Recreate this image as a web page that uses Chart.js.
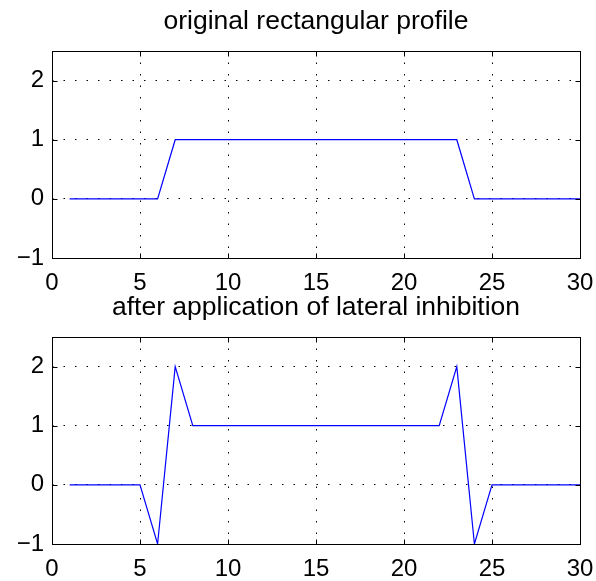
<!DOCTYPE html>
<html>
<head>
<meta charset="utf-8">
<script src="https://cdn.jsdelivr.net/npm/chart.js@4.4.0/dist/chart.umd.min.js"></script>
<style>
  html, body { margin: 0; padding: 0; background: #fff; }
  #wrap { position: relative; width: 596px; height: 581px; overflow: hidden; }
  canvas { position: absolute; left: 0; }
</style>
</head>
<body>
<div id="wrap">
  <canvas id="top" width="596" height="298" style="top:0"></canvas>
  <canvas id="bottom" width="596" height="291" style="top:290px"></canvas>
</div>
<script>
// sample index along the profile
const xs = [1, 2, 3, 4, 5, 6, 7, 8, 9, 10, 11, 12, 13, 14, 15,
            16, 17, 18, 19, 20, 21, 22, 23, 24, 25, 26, 27, 28, 29, 30];
const original = [0, 0, 0, 0, 0, 0, 1, 1, 1, 1, 1, 1, 1, 1, 1,
                  1, 1, 1, 1, 1, 1, 1, 1, 0, 0, 0, 0, 0, 0, 0];
const inhibited = [0, 0, 0, 0, 0, -1, 2, 1, 1, 1, 1, 1, 1, 1, 1,
                   1, 1, 1, 1, 1, 1, 1, 2, -1, 0, 0, 0, 0, 0, 0];
const xTicks = [0, 5, 10, 15, 20, 25, 30];
const yTicks = [-1, 0, 1, 2];
const titles = ['original rectangular profile', 'after application of lateral inhibition'];

const el = (id) => document.getElementById(id);
const FONT = '"Liberation Sans", Arial, Helvetica, sans-serif';

// matlab style: full box + short ticks pointing inward, title centred on the axes
const boxPlugin = {
  id: 'box',
  afterDraw(chart, args, opts) {
    const { ctx, chartArea: a, scales } = chart;
    const L = Math.round(a.left) + 0.5, R = Math.round(a.right) + 0.5;
    const T = Math.round(a.top) + 0.5, B = Math.round(a.bottom) + 0.5;
    ctx.save();
    ctx.strokeStyle = '#000';
    ctx.lineWidth = 1;
    ctx.beginPath();
    for (const v of xTicks) {
      const px = Math.round(scales.x.getPixelForValue(v)) + 0.5;
      ctx.moveTo(px, B); ctx.lineTo(px, B - 5);
      ctx.moveTo(px, T); ctx.lineTo(px, T + 5);
    }
    for (const v of yTicks) {
      const py = Math.round(scales.y.getPixelForValue(v)) + 0.5;
      ctx.moveTo(L, py); ctx.lineTo(L + 5, py);
      ctx.moveTo(R, py); ctx.lineTo(R - 5, py);
    }
    ctx.stroke();
    ctx.strokeRect(L, T, R - L, B - T);

    ctx.fillStyle = '#000';
    ctx.font = `26.5px ${FONT}`;
    ctx.textAlign = 'center';
    ctx.textBaseline = 'alphabetic';
    ctx.fillText(opts.text, (a.left + a.right) / 2, opts.baseline);
    ctx.restore();
  }
};

function makePlot(id, values, title, baseline, areaTop, xAxisH) {
  return new Chart(el(id).getContext('2d'), {
    type: 'line',
    data: {
      datasets: [{
        data: xs.map((x, i) => ({ x, y: values[i] })),
        borderColor: '#0000ff',
        borderWidth: 1.2,
        pointRadius: 0,
        tension: 0,
        fill: false
      }]
    },
    options: {
      responsive: false,
      animation: false,
      devicePixelRatio: 1,
      layout: { padding: { left: 0, right: 16, top: areaTop, bottom: 0 } },
      plugins: {
        legend: { display: false },
        tooltip: { enabled: false },
        title: { display: false },
        box: { text: title, baseline }
      },
      scales: {
        x: {
          type: 'linear', min: 0, max: 30,
          afterFit: (s) => { s.height = xAxisH; s.paddingLeft = 0; s.paddingRight = 0; },
          afterBuildTicks: (s) => { s.ticks = xTicks.map(v => ({ value: v })); },
          grid: { color: '#000', lineWidth: 1, drawTicks: false },
          border: { display: false, dash: [1.5, 10] },
          ticks: { color: '#000', padding: 11, maxRotation: 0, font: { family: FONT, size: 24 } }
        },
        y: {
          type: 'linear', min: -1, max: 2.5,
          afterFit: (s) => { s.width = 52; s.paddingTop = 0; s.paddingBottom = 0; },
          afterBuildTicks: (s) => { s.ticks = yTicks.map(v => ({ value: v })); },
          grid: { color: '#000', lineWidth: 1, drawTicks: false },
          border: { display: false, dash: [1.5, 10] },
          ticks: {
            color: '#000', padding: 8, font: { family: FONT, size: 24 },
            callback: (v) => String(v).replace('-', '\u2212')
          }
        }
      }
    },
    plugins: [boxPlugin]
  });
}

makePlot('top', original, titles[0], 29, 51, 40);
makePlot('bottom', inhibited, titles[1], 25, 47, 37);
</script>
</body>
</html>
